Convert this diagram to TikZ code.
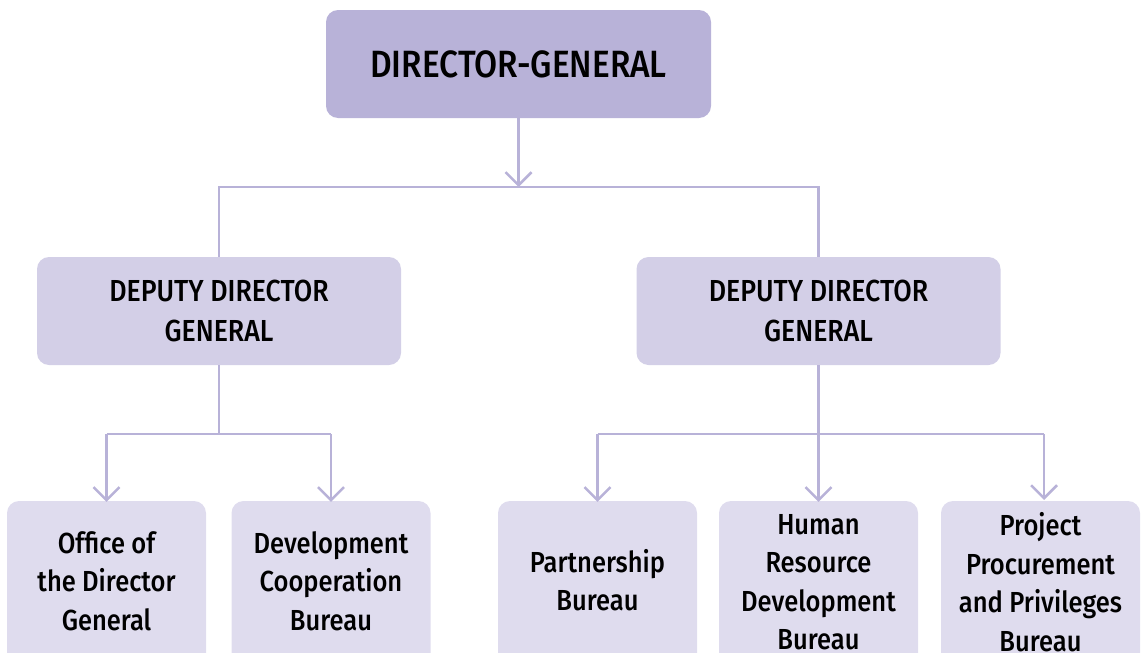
\documentclass[tikz,border=0pt]{standalone}
\usepackage{fontspec}
\setmainfont{Fira Sans}[UprightFont=* Medium,FakeStretch=0.88]
\usetikzlibrary{arrows.meta}
\definecolor{topfill}{HTML}{B8B2D8}
\definecolor{midfill}{HTML}{D3CFE7}
\definecolor{lowfill}{HTML}{DFDCEE}
\definecolor{linec}{HTML}{B8B2D8}
\begin{document}
\begin{tikzpicture}[x=1pt,y=-1pt,
  topbox/.style={fill=topfill,rounded corners=12pt,minimum width=385pt,minimum height=108pt,inner sep=0pt,font=\fontsize{38}{44}\selectfont},
  midbox/.style={fill=midfill,rounded corners=12pt,minimum width=364pt,minimum height=108pt,inner sep=0pt,align=center,font=\fontsize{30.4}{39.5}\selectfont},
  lowbox/.style={fill=lowfill,rounded corners=12pt,minimum width=199pt,minimum height=180pt,inner sep=0pt},
  lowtext/.style={align=center,inner sep=0pt,font=\fontsize{29}{38.5}\selectfont},
  conn/.style={draw=linec,line width=2.5pt},
  arr/.style={conn,-{Straight Barb[length=13pt,width=26pt,line width=2.5pt]}}
]
\useasboundingbox (0,0) rectangle (1143,653);
\node[topbox] (dg) at (518.5,64) {DIRECTOR-GENERAL};
\node[midbox] (d1) at (219,311) {DEPUTY DIRECTOR\\GENERAL};
\node[midbox] (d2) at (818.5,311) {DEPUTY DIRECTOR\\GENERAL};
\node[lowbox] (b1) at (106.5,591) {};
\node[lowbox] (b2) at (331,591) {};
\node[lowbox] (b3) at (597.5,591) {};
\node[lowbox] (b4) at (818.5,591) {};
\node[lowbox] (b5) at (1040.5,591) {};
\node[lowtext] (t1) at (106.5,581) {Office of\\the Director\\General};
\node[lowtext] (t2) at (331,581) {Development\\Cooperation\\Bureau};
\node[lowtext] (t3) at (597.5,580) {Partnership\\Bureau};
\node[lowtext] (t4) at (818.5,582) {Human\\Resource\\Development\\Bureau};
\node[lowtext] (t5) at (1040.5,582) {Project\\Procurement\\and Privileges\\Bureau};
\coordinate (j0) at (518.5,187);
\coordinate (j1) at (219,434);
\coordinate (j2) at (818.5,434);
% top level
\draw[arr] (dg.south) -- (j0);
\draw[conn] (d1.north) -- (219,187) -- (818.5,187) -- (d2.north);
% left branch
\draw[conn] (d1.south) -- (j1);
\draw[conn] (106.5,434) -- (331,434);
\draw[arr] (106.5,434) -- ([yshift=-1pt]b1.north);
\draw[arr] (331,434) -- ([yshift=-1pt]b2.north);
% right branch
\draw[conn] (597.5,434) -- (1044,434);
\draw[arr] (597.5,434) -- ([yshift=-1pt]b3.north);
\draw[arr] (d2.south) -- ([yshift=-1pt]b4.north);
\draw[arr] (1044,434) -- (1044,500);
\end{tikzpicture}
\end{document}
